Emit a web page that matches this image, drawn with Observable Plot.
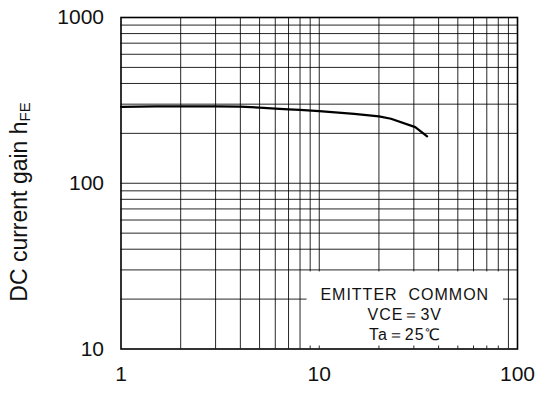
<!DOCTYPE html>
<html>
<head>
<meta charset="utf-8">
<script src="https://cdn.jsdelivr.net/npm/d3@7"></script>
<script src="https://cdn.jsdelivr.net/npm/@observablehq/plot@0.6"></script>
<style>
  html, body { margin: 0; padding: 0; background: #fff; }
  #chart { width: 537px; height: 394px; }
  svg { font-family: "Liberation Sans", Arial, sans-serif; }
</style>
</head>
<body>
<div id="chart"></div>
<script>
// Collector current (mA) vs DC current gain hFE
const icValues = [1, 1.5, 2, 3, 4, 5, 6, 7, 8, 10, 15, 20, 23, 30.5, 35];
const hfeValues = [289, 291, 291, 291, 290, 286, 282, 279, 277, 272, 262, 253, 245, 218, 192];

const xTicks = [1, 10, 100];
const yTicks = [10, 100, 1000];
const xGrid = [2, 3, 4, 5, 6, 7, 8, 9, 10, 20, 30, 40, 50, 60, 70, 80, 90];
const yGrid = [20, 30, 40, 50, 60, 70, 80, 90, 100, 200, 300, 400, 500, 600, 700, 800, 900];

const legendLines = ["EMITTER  COMMON", "VCE＝3V", "Ta＝25℃"];
const legendBoxX = [8, 90];
const legendBoxY = [10, 30];
const legendAnchor = {x: 27, y: 16.4};

const yLabelMain = "DC current gain h";
const yLabelSub = "FE";

const data = icValues.map((x, i) => ({x, y: hfeValues[i]}));

const chart = Plot.plot({
  width: 537,
  height: 394,
  marginLeft: 120.5,
  marginRight: 20,
  marginTop: 17,
  marginBottom: 45.5,
  style: {fontFamily: '"Liberation Sans", Arial, sans-serif', background: "#fff", color: "#111"},
  x: {type: "log", domain: [1, 100], ticks: xTicks, tickFormat: d => String(d), label: null},
  y: {type: "log", domain: [10, 1000], ticks: yTicks, tickFormat: d => String(d), label: null},
  marks: [
    Plot.ruleX(xGrid, {stroke: "#000", strokeWidth: 1, strokeOpacity: 0.85}),
    Plot.ruleY(yGrid, {stroke: "#000", strokeWidth: 1, strokeOpacity: 0.85}),
    Plot.rect([{}], {
      x1: () => legendBoxX[0], x2: () => legendBoxX[1],
      y1: () => legendBoxY[0], y2: () => legendBoxY[1],
      fill: "#fff", insetLeft: 7, insetRight: 5, insetTop: 2, insetBottom: 3
    }),
    Plot.text([legendLines.join("\n")], {
      x: () => legendAnchor.x, y: () => legendAnchor.y,
      text: d => d, fontSize: 16, lineHeight: 1.25, fill: "#111",
      textAnchor: "middle", lineAnchor: "middle",
      className: "legend-text"
    }),
    Plot.line(data, {x: "x", y: "y", stroke: "#000", strokeWidth: 2.2}),
    Plot.axisX({ticks: xTicks, tickFormat: d => String(d), tickSize: 0, tickPadding: 17, fontSize: 21, label: null}),
    Plot.axisY({ticks: yTicks, tickFormat: d => String(d), tickSize: 0, tickPadding: 17, fontSize: 21, label: null}),
    Plot.frame({stroke: "#000", strokeWidth: 1.6})
  ]
});

document.getElementById("chart").appendChild(chart);
d3.select(chart).selectAll(".legend-text text").style("letter-spacing", "1px");

// rotated y-axis title with subscript
const svg = d3.select(chart);
const t = svg.append("text")
  .attr("transform", "translate(27,202) rotate(-90)")
  .attr("text-anchor", "middle")
  .attr("font-family", '"Liberation Sans", Arial, sans-serif')
  .attr("font-size", 23)
  .attr("fill", "#111");
t.append("tspan").text(yLabelMain);
t.append("tspan").attr("font-size", 15).attr("dy", 3).text(yLabelSub);
</script>
</body>
</html>
